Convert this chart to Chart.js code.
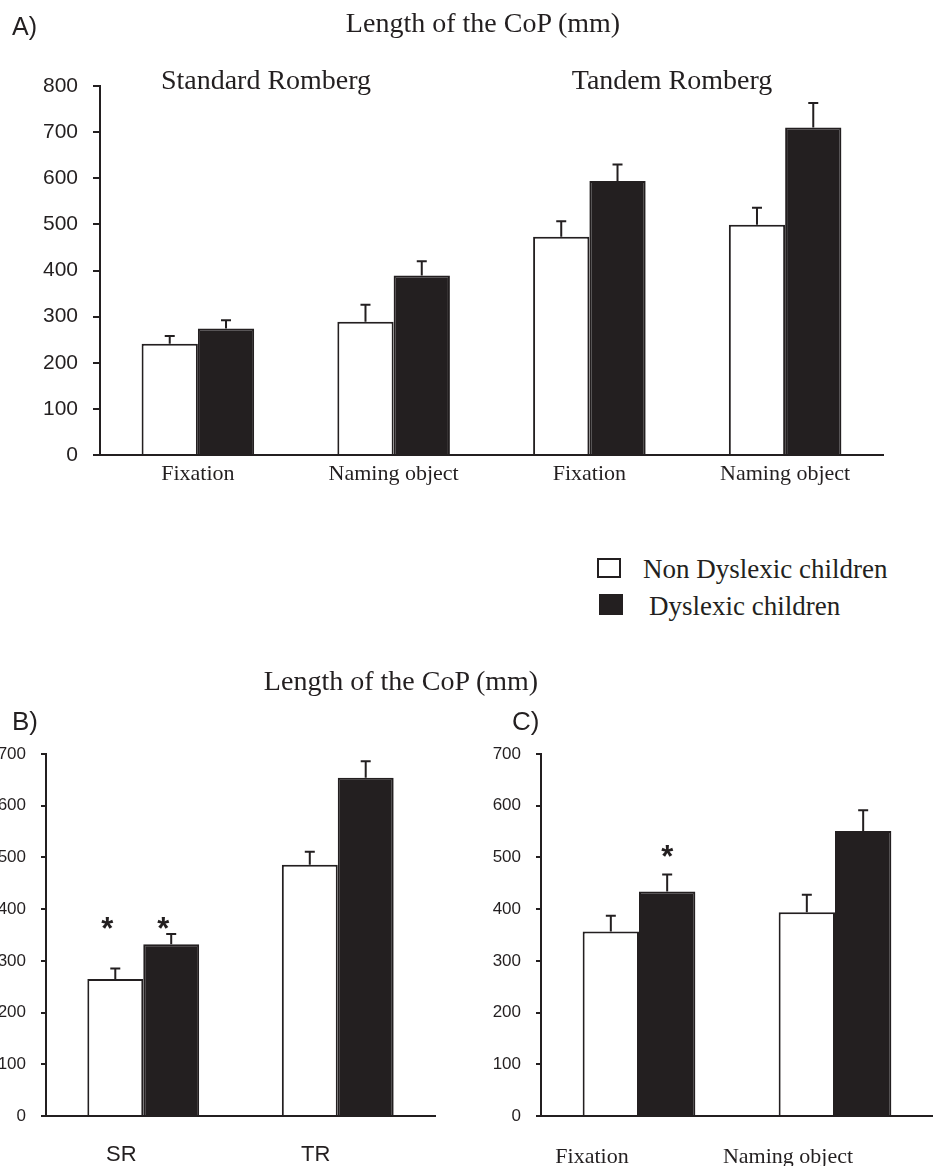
<!DOCTYPE html>
<html>
<head>
<meta charset="utf-8">
<script src="https://cdn.jsdelivr.net/npm/chart.js@4.4.0/dist/chart.umd.min.js"></script>
<style>
  body { margin: 0; background: #fff; }
  #page { position: relative; width: 933px; height: 1166px; overflow: hidden; color: #231f20; background: #fff; }
  canvas { position: absolute; }
  .serif { font-family: "Liberation Serif", "Times New Roman", serif; }
  .sans { font-family: "Liberation Sans", Arial, sans-serif; }
  .c { position: absolute; white-space: nowrap; line-height: 1; transform: translate(-50%, -50%); }
  .l { position: absolute; white-space: nowrap; line-height: 1; transform: translateY(-50%); }
  .box { position: absolute; box-sizing: border-box; border: 2px solid #231f20; }
</style>
</head>
<body>
<div id="page">
  <canvas id="chartA" width="933" height="500" style="left:0;top:0"></canvas>
  <canvas id="chartB" width="440" height="526" style="left:0;top:640px"></canvas>
  <canvas id="chartC" width="453" height="526" style="left:480px;top:640px"></canvas>

  <div class="l sans" style="left:12px;top:26px;font-size:25px">A)</div>
  <div class="c serif" style="left:483px;top:23px;font-size:28px">Length of the CoP (mm)</div>
  <div class="c serif" style="left:266px;top:80px;font-size:28px">Standard Romberg</div>
  <div class="c serif" style="left:672px;top:80px;font-size:28px">Tandem Romberg</div>

  <div class="box" style="left:597px;top:558px;width:24px;height:20px;background:#fff"></div>
  <div class="l serif" style="left:643px;top:569px;font-size:27px">Non Dyslexic children</div>
  <div class="box" style="left:599px;top:594px;width:24px;height:21px;background:#231f20"></div>
  <div class="l serif" style="left:649px;top:606px;font-size:27px">Dyslexic children</div>

  <div class="c serif" style="left:401px;top:681px;font-size:28px">Length of the CoP (mm)</div>
  <div class="l sans" style="left:12px;top:721px;font-size:26px">B)</div>
  <div class="l sans" style="left:512px;top:721px;font-size:26px">C)</div>
</div>
<script>
const ink = "#231f20";

// Panel A: standard and tandem Romberg, fixation vs naming
const catsA = ["Fixation", "Naming object", "Fixation", "Naming object"];
const nonDysA = [241, 289, 473, 499];
const nonDysErrA = [17, 37, 34, 37];
const dysA = [274, 389, 594, 710];
const dysErrA = [18, 31, 36, 53];
const maxA = 800;

// Panel B: SR vs TR
const catsB = ["SR", "TR"];
const nonDysB = [265, 486];
const nonDysErrB = [20, 25];
const dysB = [332, 654];
const dysErrB = [20, 32];
const starsB = [{ series: 0, index: 0, at: 377 }, { series: 1, index: 0, at: 377 }];

// Panel C: fixation vs naming object
const catsC = ["Fixation", "Naming object"];
const nonDysC = [357, 394];
const nonDysErrC = [30, 34];
const dysC = [434, 551];
const dysErrC = [33, 40];
const starsC = [{ series: 1, index: 0, at: 517 }];

const maxBC = 700;

function marks(stars, shift) {
    return {
        id: "marks",
        afterDatasetsDraw: function (chart) {
            const ctx = chart.ctx;
            const y = chart.scales.y;
            ctx.save();
            ctx.strokeStyle = ink;
            ctx.lineWidth = 2;
            chart.data.datasets.forEach(function (ds, di) {
                const meta = chart.getDatasetMeta(di);
                (ds.errors || []).forEach(function (e, i) {
                    const bar = meta.data[i];
                    const top = y.getPixelForValue(ds.data[i] + e);
                    ctx.beginPath();
                    ctx.moveTo(bar.x, bar.y);
                    ctx.lineTo(bar.x, top);
                    ctx.moveTo(bar.x - 5, top);
                    ctx.lineTo(bar.x + 5, top);
                    ctx.stroke();
                });
            });
            ctx.fillStyle = ink;
            ctx.font = "bold 31px 'Liberation Sans', Arial, sans-serif";
            ctx.textAlign = "center";
            ctx.textBaseline = "alphabetic";
            (stars || []).forEach(function (s) {
                const bar = chart.getDatasetMeta(s.series).data[s.index];
                ctx.fillText("*", bar.x + shift, y.getPixelForValue(s.at) + 18);
            });
            ctx.restore();
        }
    };
}

function panel(id, cats, nonDys, nonDysErr, dys, dysErr, cfg) {
    const el = document.getElementById(id);
    return new Chart(el, {
        type: "bar",
        data: {
            labels: cats,
            datasets: [
                { label: "Non Dyslexic children", data: nonDys, errors: nonDysErr, backgroundColor: "#fff", borderColor: ink, borderWidth: 2 },
                { label: "Dyslexic children", data: dys, errors: dysErr, backgroundColor: ink, borderColor: ink, borderWidth: 2 }
            ]
        },
        options: {
            responsive: false,
            animation: false,
            layout: { padding: { top: cfg.top, right: cfg.right, left: 0, bottom: 0 } },
            datasets: { bar: { barPercentage: 1, categoryPercentage: 0.575 } },
            plugins: { legend: { display: false }, tooltip: { enabled: false } },
            scales: {
                x: {
                    grid: { display: false, drawTicks: false },
                    border: { display: true, color: ink, width: 2 },
                    ticks: { font: cfg.xFont, color: ink, padding: cfg.xPad, labelOffset: cfg.xShift },
                    afterFit: function (s) { s.height = cfg.xHeight; }
                },
                y: {
                    min: 0,
                    max: cfg.max,
                    ticks: { stepSize: 100, font: cfg.yFont, color: ink, padding: 15 },
                    grid: { drawOnChartArea: false, drawTicks: true, tickLength: cfg.tick, color: ink, lineWidth: 2 },
                    border: { display: true, color: ink, width: 2 },
                    afterFit: function (s) { s.width = cfg.yWidth; }
                }
            }
        },
        plugins: [marks(cfg.stars, cfg.starShift)]
    });
}

const serifLbl = { family: "'Liberation Serif', 'Times New Roman', serif", size: 22 };

panel("chartA", catsA, nonDysA, nonDysErrA, dysA, dysErrA, {
    top: 86, right: 50, xHeight: 45, yWidth: 100, max: maxA, tick: 7,
    xFont: serifLbl, xPad: 6, xShift: 0,
    yFont: { family: "'Liberation Sans', Arial, sans-serif", size: 21 },
    stars: [], starShift: 0
});

panel("chartB", catsB, nonDysB, nonDysErrB, dysB, dysErrB, {
    top: 114, right: 5, xHeight: 50, yWidth: 46, max: maxBC, tick: 5,
    xFont: { family: "'Liberation Sans', Arial, sans-serif", size: 22 }, xPad: 26, xShift: -22,
    yFont: { family: "'Liberation Sans', Arial, sans-serif", size: 17 },
    stars: starsB, starShift: -8
});

panel("chartC", catsC, nonDysC, nonDysErrC, dysC, dysErrC, {
    top: 114, right: 0, xHeight: 50, yWidth: 61, max: maxBC, tick: 5,
    xFont: serifLbl, xPad: 28, xShift: -47,
    yFont: { family: "'Liberation Sans', Arial, sans-serif", size: 17 },
    stars: starsC, starShift: 0
});
</script>
</body>
</html>
